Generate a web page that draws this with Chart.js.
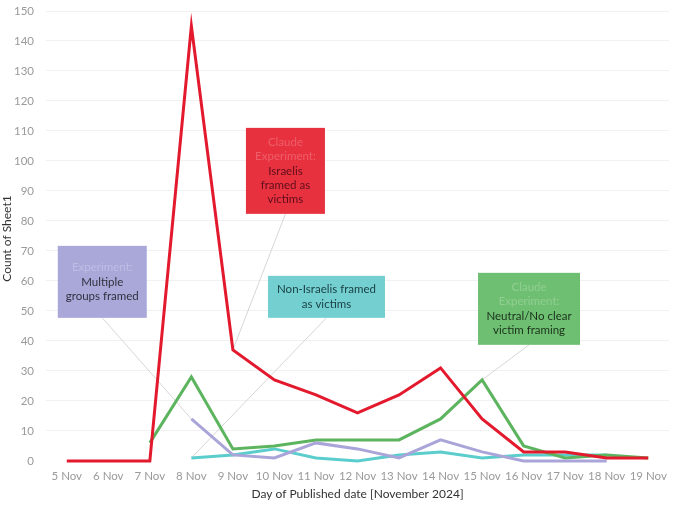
<!DOCTYPE html>
<html>
<head>
<meta charset="utf-8">
<script src="https://cdn.jsdelivr.net/npm/chart.js@4/dist/chart.umd.min.js"></script>
<style>
  html, body { margin: 0; padding: 0; background: #fff; }
  #chart { display: block; }
</style>
</head>
<body>
<canvas id="chart" width="680" height="505"></canvas>
<script>
// days on the x axis
var days = ['5 Nov', '6 Nov', '7 Nov', '8 Nov', '9 Nov', '10 Nov', '11 Nov', '12 Nov',
            '13 Nov', '14 Nov', '15 Nov', '16 Nov', '17 Nov', '18 Nov', '19 Nov'];

// counts per framing category (null = no record that day)
var israelis    = [0, 0, 0, 145, 37, 27, 22, 16, 22, 31, 14, 3, 3, 1, 1];
var neutral     = [null, null, 6, 28, 4, 5, 7, 7, 7, 14, 27, 5, 1, 2, 1];
var multiple    = [null, null, null, 14, 2, 1, 6, 4, 1, 7, 3, 0, 0, 0, null];
var nonIsraelis = [null, null, null, 1, 2, 4, 1, 0, 2, 3, 1, 2, 2, 2, null];

var yTicks = [0, 10, 20, 30, 40, 50, 60, 70, 80, 90, 100, 110, 120, 130, 140, 150];

var FONT = 'Lato';

// callout boxes: centre in data space, tied to one point of a dataset
var callouts = [
    { ds: 1, at: 3, cx: 0.855, cy: 59.7, w: 89, h: 72, fill: '#aaa8d9', faint: '#bfbde4', ink: '#30303f',
      faintLines: ['Experiment:'], lines: ['Multiple', 'groups framed'] },
    { ds: 0, at: 4, cx: 5.265, cy: 96.7, w: 79, h: 86, fill: '#e8313f', faint: '#ee5e69', ink: '#5e0e1a',
      faintLines: ['Claude', 'Experiment:'], lines: ['Israelis', 'framed as', 'victims'] },
    { ds: 3, at: 3, cx: 6.253, cy: 54.7, w: 117, h: 42, fill: '#74d0d0', faint: '#9adcdc', ink: '#1b4146',
      faintLines: [], lines: ['Non-Israelis framed', 'as victims'] },
    { ds: 2, at: 10, cx: 11.13, cy: 50.7, w: 102, h: 72, fill: '#6fbf72', faint: '#90cf92', ink: '#1a321b',
      faintLines: ['Claude', 'Experiment:'], lines: ['Neutral/No clear', 'victim framing'] }
];

function boxRect(chart, c) {
    var x = chart.scales.x.getPixelForValue(c.cx);
    var y = chart.scales.y.getPixelForValue(c.cy);
    return { left: x - c.w / 2, top: y - c.h / 2, cx: x, bottom: y + c.h / 2 };
}

var calloutPlugin = {
    id: 'callouts',
    beforeDatasetsDraw: function (chart) {
        var ctx = chart.ctx;
        ctx.save();
        ctx.strokeStyle = '#d6d6d6';
        ctx.lineWidth = 1;
        callouts.forEach(function (c) {
            var r = boxRect(chart, c);
            var pt = chart.getDatasetMeta(c.ds).data[c.at];
            ctx.beginPath();
            ctx.moveTo(r.cx, r.bottom);
            ctx.lineTo(pt.x, pt.y);
            ctx.stroke();
        });
        ctx.restore();
    },
    afterDatasetsDraw: function (chart) {
        var ctx = chart.ctx;
        ctx.save();
        callouts.forEach(function (c) {
            var r = boxRect(chart, c);
            ctx.fillStyle = c.fill;
            ctx.fillRect(r.left, r.top, c.w, c.h);
            var all = c.faintLines.length + c.lines.length;
            var lh = 14.3;
            var y0 = r.top + c.h / 2 - (all - 1) * lh / 2;
            ctx.textAlign = 'center';
            ctx.textBaseline = 'middle';
            ctx.font = '11.5px ' + FONT;
            c.faintLines.forEach(function (t, i) {
                ctx.fillStyle = c.faint;
                ctx.fillText(t, r.cx, y0 + i * lh);
            });
            c.lines.forEach(function (t, i) {
                ctx.fillStyle = c.ink;
                ctx.fillText(t, r.cx, y0 + (c.faintLines.length + i) * lh);
            });
        });
        ctx.restore();
    }
};

function series(label, data, color) {
    return {
        label: label,
        data: data,
        borderColor: color,
        backgroundColor: color,
        borderWidth: 3,
        pointRadius: 0,
        pointHoverRadius: 0,
        tension: 0,
        spanGaps: false,
        fill: false
    };
}

new Chart(document.getElementById('chart').getContext('2d'), {
    type: 'line',
    data: {
        labels: days,
        datasets: [
            series('Israelis framed as victims', israelis, '#e31a2d'),
            series('Multiple groups framed', multiple, '#a9a5d9'),
            series('Neutral/No clear victim framing', neutral, '#5db45f'),
            series('Non-Israelis framed as victims', nonIsraelis, '#5ccdcd')
        ]
    },
    options: {
        responsive: false,
        animation: false,
        layout: { padding: { top: 11, right: 11, left: 0, bottom: 0 } },
        plugins: {
            legend: { display: false },
            tooltip: { enabled: false }
        },
        scales: {
            x: {
                offset: true,
                grid: { display: false, drawTicks: false },
                border: { display: false },
                ticks: {
                    color: '#9a9a9a',
                    font: { family: FONT, size: 11.5 },
                    padding: 3,
                    maxRotation: 0,
                    autoSkip: false
                },
                title: {
                    display: true,
                    text: 'Day of Published date [November 2024]',
                    color: '#333',
                    font: { family: FONT, size: 12 },
                    padding: { top: 4, bottom: 4 }
                },
                afterFit: function (scale) { scale.height = 39; }
            },
            y: {
                min: -1.7,
                max: 150,
                afterBuildTicks: function (scale) {
                    scale.ticks = yTicks.map(function (v) { return { value: v }; });
                },
                grid: {
                    drawTicks: true,
                    tickLength: 10,
                    tickColor: 'rgba(0,0,0,0)',
                    color: function (c) { return c.tick && c.tick.value > 0 ? '#f1f1f1' : 'rgba(0,0,0,0)'; }
                },
                border: { display: false },
                ticks: {
                    color: '#9a9a9a',
                    font: { family: FONT, size: 11.5 },
                    padding: 2
                },
                title: {
                    display: true,
                    text: 'Count of Sheet1',
                    color: '#333',
                    font: { family: FONT, size: 12 },
                    padding: { top: 0, bottom: 0 }
                },
                afterFit: function (scale) { scale.width = 46; }
            }
        }
    },
    plugins: [calloutPlugin]
});
</script>
</body>
</html>
